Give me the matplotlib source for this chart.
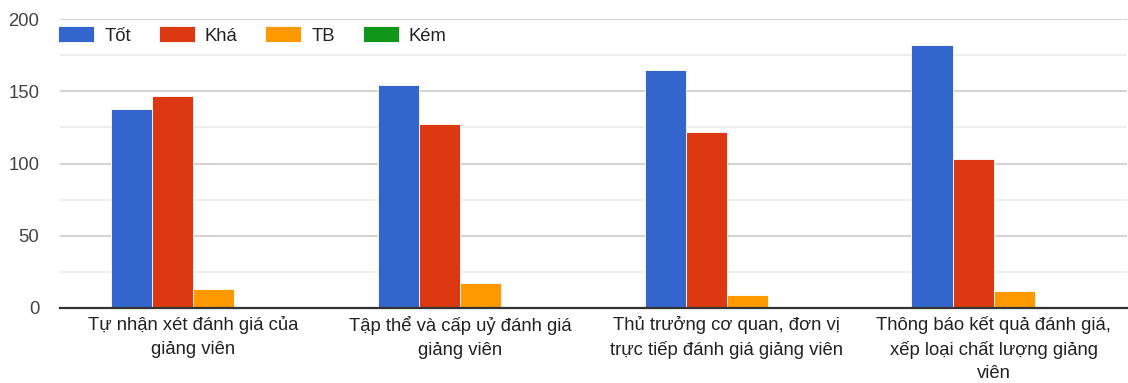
import matplotlib
matplotlib.use("Agg")
import matplotlib.pyplot as plt
import numpy as np
from matplotlib.ticker import MultipleLocator

categories = [
    "Tự nhận xét đánh giá của\ngiảng viên",
    "Tập thể và cấp uỷ đánh giá\ngiảng viên",
    "Thủ trưởng cơ quan, đơn vị\ntrực tiếp đánh giá giảng viên",
    "Thông báo kết quả đánh giá,\nxếp loại chất lượng giảng\nviên",
]
series_names = ["Tốt", "Khá", "TB", "Kém"]
tot = [138, 154, 165, 182]
kha = [147, 127, 122, 103]
tb = [13, 17, 9, 12]
kem = [0, 0, 1, 0]
colors = ["#3366cc", "#dc3912", "#ff9900", "#109618"]

plt.rcParams["font.family"] = ["Liberation Sans", "DejaVu Sans"]
FS = 13.3

W, H = 1128, 383
fig = plt.figure(figsize=(W / 100, H / 100), dpi=100)
ax = fig.add_axes([60 / W, 1 - 308 / H, (1127 - 60) / W, (308 - 19) / H])

x = np.arange(len(categories))
bw = 0.154
series = [tot, kha, tb, kem]
for i, (vals, name, c) in enumerate(zip(series, series_names, colors)):
    offs = (i - 1.5) * bw
    ax.bar(x + offs, vals, width=bw, color=c, edgecolor="white",
           linewidth=0.6, label=name, zorder=3)

ax.set_xlim(-0.5, len(categories) - 0.5)
ax.set_ylim(0, 200)
ax.yaxis.set_major_locator(MultipleLocator(50))
ax.yaxis.set_minor_locator(MultipleLocator(25))
ax.grid(axis="y", which="major", color="#cccccc", linewidth=1.2, zorder=0)
ax.grid(axis="y", which="minor", color="#ebebeb", linewidth=1.2, zorder=0)
ax.set_axisbelow(True)
for s in ["top", "right", "left"]:
    ax.spines[s].set_visible(False)
ax.spines["bottom"].set_color("#333333")
ax.spines["bottom"].set_linewidth(1.6)
ax.spines["bottom"].set_zorder(4)

ax.set_xticks(x)
ax.set_xticklabels(categories, fontsize=FS, color="#222222", linespacing=1.48,
                   va="top")
ax.tick_params(axis="x", length=0, pad=6)
ax.tick_params(axis="y", which="both", length=0, pad=15, labelsize=FS,
               labelcolor="#444444")

leg = ax.legend(loc="center left", bbox_to_anchor=(58 / W, 1 - 35.5 / H),
                bbox_transform=fig.transFigure, ncol=4, frameon=False,
                fontsize=FS, handlelength=1.95, handleheight=0.92,
                handletextpad=0.55, columnspacing=1.5, borderpad=0,
                borderaxespad=0)
for t in leg.get_texts():
    t.set_color("#222222")

fig.savefig("out.png", dpi=100, facecolor="white")
